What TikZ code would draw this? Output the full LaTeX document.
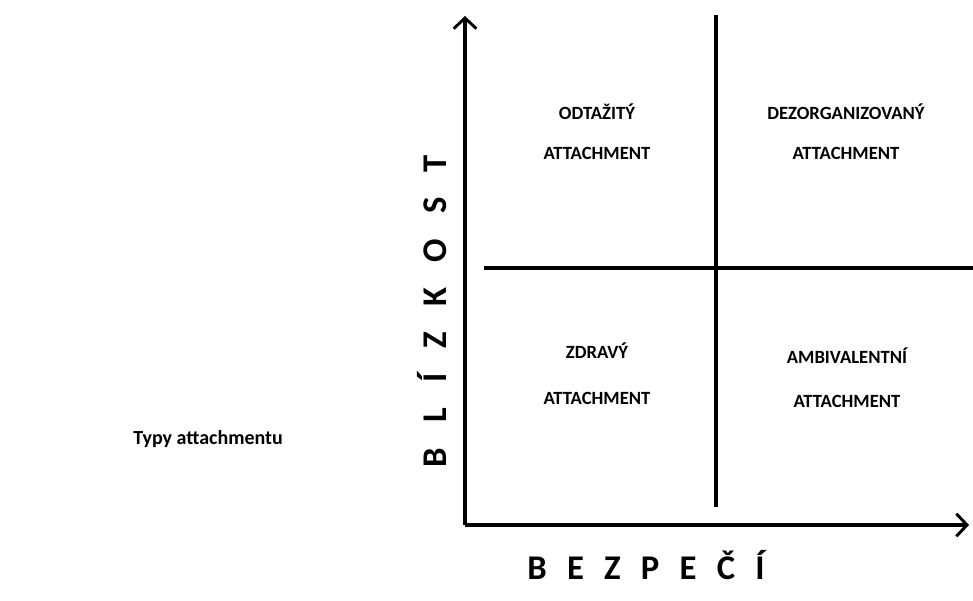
\documentclass[tikz,border=0pt]{standalone}
\usepackage{fontspec}
\setmainfont{Carlito}[BoldFont={Carlito Bold}]
\usetikzlibrary{arrows.meta}
\begin{document}
\begin{tikzpicture}[x=0.75pt,y=-0.75pt,
  axis/.style={line width=2.3pt,-{Straight Barb[length=8pt,width=17pt,line width=2.2pt]}},
  divider/.style={line width=2.3pt},
  axislabel/.style={font=\bfseries\fontsize{26}{30}\selectfont,inner sep=0pt,anchor=base},
  quad/.style={font=\bfseries\fontsize{14}{17}\selectfont,inner sep=0pt,anchor=base},
  title/.style={font=\bfseries\fontsize{15}{18}\selectfont,inner sep=0pt,anchor=base west}]
\useasboundingbox (0,0) rectangle (973,600);
\coordinate (O) at (465,525);
\coordinate (ytip) at (465,16);
\coordinate (xtip) at (969,525);
\coordinate (vtop) at (716,15);
\coordinate (vbot) at (716,507);
\coordinate (hl) at (484,268);
\coordinate (hr) at (973,268);
\draw[axis] (O) -- (ytip);
\draw[axis] (O) -- (xtip);
\draw[divider] (vtop) -- (vbot);
\draw[divider] (hl) -- (hr);
\node[axislabel] (bez) at (646,579) {\makebox[178pt][s]{B\hfill E\hfill Z\hfill P\hfill E\hfill Č\hfill Í}};
\node[axislabel,rotate=90] (bliz) at (446,311) {\makebox[234pt][s]{B\hfill L\hfill Í\hfill Z\hfill K\hfill O\hfill S\hfill T}};
\node[quad] (q1a) at (597,119) {ODTAŽITÝ};
\node[quad] (q1b) at (597,159) {ATTACHMENT};
\node[quad] (q2a) at (846,119) {DEZORGANIZOVANÝ};
\node[quad] (q2b) at (846,159) {ATTACHMENT};
\node[quad] (q3a) at (597,358) {ZDRAVÝ};
\node[quad] (q3b) at (597,404) {ATTACHMENT};
\node[quad] (q4a) at (847,363) {AMBIVALENTNÍ};
\node[quad] (q4b) at (847,407) {ATTACHMENT};
\node[title] (title) at (133,444) {Typy attachmentu};
\end{tikzpicture}
\end{document}
